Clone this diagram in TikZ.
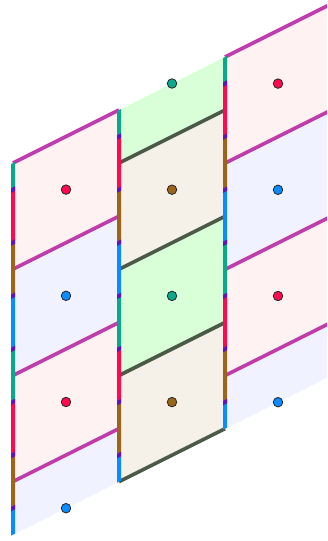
\documentclass[tikz,border=0pt]{standalone}
\definecolor{pinkF}{RGB}{255,242,242}
\definecolor{blueF}{RGB}{240,242,255}
\definecolor{greenF}{RGB}{216,255,216}
\definecolor{tanF}{RGB}{245,240,232}
\definecolor{purpleL}{RGB}{192,60,170}
\definecolor{darkL}{RGB}{75,90,70}
\definecolor{tealC}{RGB}{10,168,140}
\definecolor{redC}{RGB}{255,10,80}
\definecolor{brownC}{RGB}{155,102,25}
\definecolor{blueC}{RGB}{10,140,255}
\definecolor{markC}{RGB}{95,20,190}
\tikzset{
  pinkline/.style={draw=purpleL, line width=3.6pt},
  darkline/.style={draw=darkL, line width=3.6pt},
  dot/.style={circle, draw=black!85, line width=0.8pt, minimum size=9.5pt, inner sep=0pt}
}
\begin{document}
\begin{tikzpicture}[x=1pt,y=-1pt]
\useasboundingbox (0,0) rectangle (327,541);
\clip (0,0) rectangle (327,541);
\begin{scope}[yshift=-6.5pt, yslant=0.5]
  % fills: left and right columns
  \foreach \xa/\xb in {13/119, 225/331} {
    \foreach \a/\b/\c in {163/269.2/pinkF, 269.2/375.4/blueF, 375.4/481.6/pinkF, 481.6/534.7/blueF} {
      \fill[\c] (\xa,\a) -- (\xb,\a) -- (\xb,\b) -- (\xa,\b) -- cycle;
    }
  }
  % fills: middle column
  \foreach \a/\b/\c in {163/216.1/greenF, 216.1/322.3/tanF, 322.3/428.5/greenF, 428.5/534.7/tanF} {
    \fill[\c] (119,\a) -- (225,\a) -- (225,\b) -- (119,\b) -- cycle;
  }
  % sheared edges
  \foreach \xa/\xb in {13/119, 225/331} {
    \foreach \v in {163, 269.2, 375.4, 481.6} {
      \draw[pinkline] (\xa,\v) -- (\xb,\v);
    }
  }
  \foreach \v in {216.1, 322.3, 428.5, 534.7} {
    \draw[darkline] (119,\v) -- (225,\v);
  }
  % vertical coloured edges
  \foreach \u in {13, 119, 225} {
    \foreach \a/\b/\c in {163/189.55/tealC, 189.55/242.65/redC, 242.65/295.75/brownC, 295.75/348.85/blueC,
                          348.85/401.95/tealC, 401.95/455.05/redC, 455.05/508.15/brownC, 508.15/534.7/blueC} {
      \fill[\c] ({\u-2},\a) -- ({\u+2},\a) -- ({\u+2},\b) -- ({\u-2},\b) -- cycle;
    }
    \foreach \m in {189.55, 242.65, 295.75, 348.85, 401.95, 455.05, 508.15} {
      \fill[markC] ({\u-2},{\m-2.2}) -- ({\u+2},{\m-2.2}) -- ({\u+2},{\m+2.2}) -- ({\u-2},{\m+2.2}) -- cycle;
    }
  }
  % centre dots
  \node[dot, fill=redC]   (dL1) at (66,216.1) {};
  \node[dot, fill=blueC]  (dL2) at (66,322.3) {};
  \node[dot, fill=redC]   (dL3) at (66,428.5) {};
  \node[dot, fill=blueC]  (dL4) at (66,534.7) {};
  \node[dot, fill=tealC]  (dM1) at (172,163) {};
  \node[dot, fill=brownC] (dM2) at (172,269.2) {};
  \node[dot, fill=tealC]  (dM3) at (172,375.4) {};
  \node[dot, fill=brownC] (dM4) at (172,481.6) {};
  \node[dot, fill=redC]   (dR1) at (278,216.1) {};
  \node[dot, fill=blueC]  (dR2) at (278,322.3) {};
  \node[dot, fill=redC]   (dR3) at (278,428.5) {};
  \node[dot, fill=blueC]  (dR4) at (278,534.7) {};
\end{scope}
\end{tikzpicture}
\end{document}
